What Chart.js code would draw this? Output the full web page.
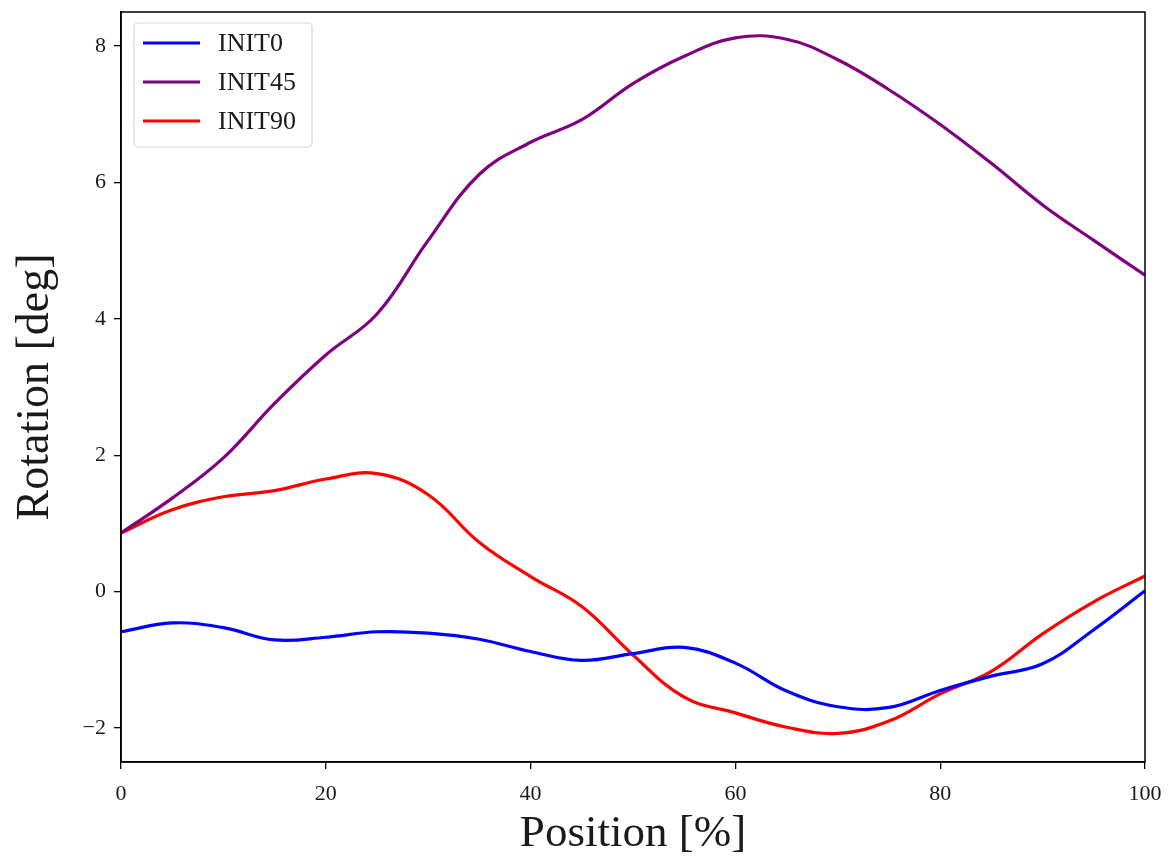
<!DOCTYPE html>
<html>
<head>
<meta charset="utf-8">
<script src="https://cdn.jsdelivr.net/npm/chart.js@4"></script>
<style>
    html, body { margin: 0; padding: 0; background: #fff; }
    #wrap { width: 1169px; height: 861px; }
</style>
</head>
<body>
<div id="wrap"><canvas id="rot-chart"></canvas></div>
<script>
// Rotation vs position, three initial orientations

const positions = [0, 5, 10, 15, 20, 25, 30, 35, 40, 45, 50, 55, 60, 65, 70, 75, 80, 85, 90, 95, 100];
const init0 = [-0.59, -0.46, -0.53, -0.71, -0.67, -0.59, -0.61, -0.70, -0.88, -1.01, -0.91, -0.82, -1.05, -1.46, -1.69, -1.70, -1.45, -1.24, -1.06, -0.56, 0.01];
const init45 = [0.86, 1.37, 1.96, 2.76, 3.47, 4.07, 5.15, 6.12, 6.59, 6.92, 7.45, 7.85, 8.12, 8.10, 7.80, 7.36, 6.85, 6.28, 5.67, 5.15, 4.64];
const init90 = [0.86, 1.20, 1.39, 1.48, 1.65, 1.73, 1.42, 0.72, 0.22, -0.22, -0.93, -1.55, -1.78, -1.99, -2.08, -1.90, -1.50, -1.17, -0.62, -0.15, 0.23];
const seriesLabels = ['INIT0', 'INIT45', 'INIT90'];
const seriesColors = ['#0000ff', '#800080', '#ff0000'];
const xTicks = [0, 20, 40, 60, 80, 100];
const yTicks = [-2, 0, 2, 4, 6, 8];

const SERIF = '"Liberation Serif", "DejaVu Serif", serif';

function toPoints(ys) {
    return positions.map((x, i) => ({ x: x, y: ys[i] }));
}

// Frame round the plot area and the legend box in the upper left corner
const framePlugin = {
    id: 'frame',
    afterDraw(chart) {
        const ctx = chart.ctx;
        const a = chart.chartArea;
        ctx.save();
        ctx.strokeStyle = '#000';
        ctx.lineWidth = 1.5;
        ctx.strokeRect(a.left, a.top, a.right - a.left, a.bottom - a.top);

        // legend
        const bx = a.left + 13, by = a.top + 11, bw = 178, bh = 124;
        ctx.fillStyle = 'rgba(255,255,255,0.8)';
        ctx.strokeStyle = '#d9d9d9';
        ctx.lineWidth = 1.2;
        ctx.beginPath();
        ctx.roundRect(bx, by, bw, bh, 4);
        ctx.fill();
        ctx.stroke();

        chart.data.datasets.forEach((ds, i) => {
            const y = by + 20 + i * 39;
            ctx.strokeStyle = ds.borderColor;
            ctx.lineWidth = 3;
            ctx.beginPath();
            ctx.moveTo(bx + 9, y);
            ctx.lineTo(bx + 66, y);
            ctx.stroke();
            ctx.fillStyle = '#1a1a1a';
            ctx.font = '26px ' + SERIF;
            ctx.textBaseline = 'middle';
            ctx.fillText(ds.label, bx + 84, y + 1);
        });
        ctx.restore();
    }
};

const ctx = document.getElementById('rot-chart').getContext('2d');
new Chart(ctx, {
    type: 'line',
    data: {
        datasets: [0, 1, 2].map(i => ({
            label: seriesLabels[i],
            data: toPoints([init0, init45, init90][i]),
            borderColor: seriesColors[i],
            backgroundColor: seriesColors[i],
            borderWidth: 3.2,
            pointRadius: 0,
            tension: 0.4,
            fill: false,
        })),
    },
    options: {
        responsive: true,
        maintainAspectRatio: false,
        animation: false,
        layout: { padding: { top: 12, right: 24, left: 0, bottom: 0 } },
        plugins: {
            legend: { display: false },
            tooltip: { enabled: false },
        },
        scales: {
            x: {
                type: 'linear',
                min: 0,
                max: 100,
                afterFit: (s) => { s.height = 99; s.paddingLeft = 0; s.paddingRight = 0; },
                afterBuildTicks: (s) => { s.ticks = xTicks.map(v => ({ value: v })); },
                grid: { drawOnChartArea: false, drawTicks: true, tickLength: 7, color: '#000', lineWidth: 1.3 },
                border: { display: true, color: '#000', width: 1.5 },
                ticks: {
                    color: '#1a1a1a',
                    font: { family: SERIF, size: 22 },
                    padding: 12,
                    maxRotation: 0,
                },
                title: {
                    display: true,
                    text: 'Position [%]',
                    color: '#1a1a1a',
                    font: { family: SERIF, size: 45 },
                    padding: { top: 4, bottom: 0 },
                },
            },
            y: {
                type: 'linear',
                min: -2.5,
                max: 8.5,
                afterFit: (s) => { s.width = 121; s.paddingTop = 0; s.paddingBottom = 0; },
                afterBuildTicks: (s) => { s.ticks = yTicks.map(v => ({ value: v })); },
                grid: { drawOnChartArea: false, drawTicks: true, tickLength: 7, color: '#000', lineWidth: 1.3 },
                border: { display: true, color: '#000', width: 1.5 },
                ticks: {
                    color: '#1a1a1a',
                    font: { family: SERIF, size: 22 },
                    padding: 8,
                    callback: (v) => String(v).replace('-', '\u2212'),
                },
                title: {
                    display: true,
                    text: 'Rotation [deg]',
                    color: '#1a1a1a',
                    font: { family: SERIF, size: 46 },
                    padding: { top: 8, bottom: 0 },
                },
            },
        },
    },
    plugins: [framePlugin],
});
</script>
</body>
</html>
